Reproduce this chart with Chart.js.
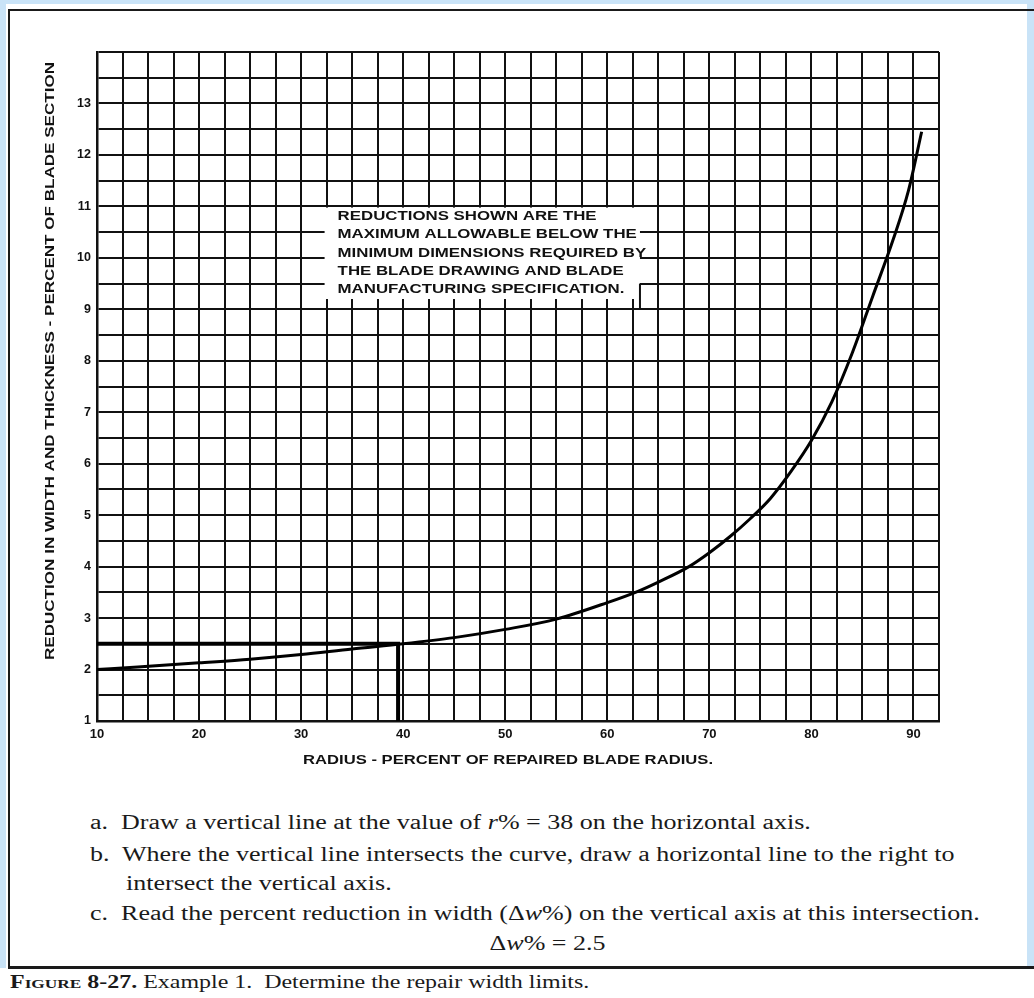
<!DOCTYPE html>
<html>
<head>
<meta charset="utf-8">
<script src="https://cdn.jsdelivr.net/npm/chart.js@4.4.0/dist/chart.umd.min.js"></script>
<style>
    body { margin: 0; width: 1034px; height: 998px; background: #c9e3f7; position: relative; overflow: hidden; }
    #sheet { position: absolute; left: 6px; top: 4px; width: 1021px; height: 994px; background: #fff; }
    #capbg { position: absolute; left: 0; top: 968px; width: 1034px; height: 30px; background: #fff; }
    #frame { position: absolute; left: 8px; top: 9px; width: 1026px; height: 955px;
        border-left: 2px solid #1a1a1a; border-top: 2px solid #1a1a1a; border-bottom: 3px solid #1a1a1a; }
    #chart { position: absolute; left: 0; top: 0; }
    .step { position: absolute; font-family: "Liberation Serif", "Times New Roman", serif; font-size: 20px;
        line-height: 24px; color: #1a1a1a; white-space: nowrap; transform: scaleX(1.3); transform-origin: left center; }
    .mid { position: absolute; left: 0; width: 1096px; text-align: center; font-family: "Liberation Serif", serif;
        font-size: 20px; line-height: 24px; color: #1a1a1a; }
    .mid span { display: inline-block; transform: scaleX(1.3); }
    #caption { position: absolute; left: 10px; top: 972px; font-family: "Liberation Serif", serif; font-size: 18px;
        line-height: 20px; color: #1a1a1a; white-space: nowrap; transform: scaleX(1.33); transform-origin: left center; }
    #caption b span { font-variant: small-caps; }
</style>
</head>
<body>
<div id="sheet"></div>
<div id="capbg"></div>
<div id="frame"></div>
<canvas id="chart" width="1034" height="790"></canvas>

<div class="step" style="left:90px; top:810px;">a.&nbsp; Draw a vertical line at the value of <i>r</i>% = 38 on the horizontal axis.</div>
<div class="step" style="left:90px; top:842px;">b.&nbsp; Where the vertical line intersects the curve, draw a horizontal line to the right to</div>
<div class="step" style="left:126px; top:871px;">intersect the vertical axis.</div>
<div class="step" style="left:90px; top:901px;">c.&nbsp; Read the percent reduction in width (Δ<i>w</i>%) on the vertical axis at this intersection.</div>
<div class="mid" style="top:931px;"><span>Δ<i>w</i>% = 2.5</span></div>
<div id="caption"><b>F<span>igure</span> 8-27.</b> Example 1.&nbsp; Determine the repair width limits.</div>

<script>
'use strict'

// curve (radius %, reduction %)
var radius = [10, 14, 20, 25, 30, 35, 40, 45, 50, 55, 60, 63, 65, 68, 70, 72, 74, 76, 78, 80, 82, 84, 86, 88, 89.5, 90.8];
var reduction = [2.0, 2.05, 2.13, 2.2, 2.29, 2.4, 2.5, 2.62, 2.78, 2.98, 3.3, 3.52, 3.7, 4.0, 4.27, 4.58, 4.93, 5.33, 5.85, 6.45, 7.2, 8.15, 9.25, 10.35, 11.3, 12.45];

// example 1 construction lines
var guideX = [10, 39.5, 39.5];
var guideY = [2.5, 2.5, 1];

var xTickLabels = [10, 20, 30, 40, 50, 60, 70, 80, 90];
var yTickLabels = [1, 2, 3, 4, 5, 6, 7, 8, 9, 10, 11, 12, 13];

var noteLines = [
    "REDUCTIONS SHOWN ARE THE",
    "MAXIMUM ALLOWABLE BELOW THE",
    "MINIMUM DIMENSIONS REQUIRED BY",
    "THE BLADE DRAWING AND BLADE",
    "MANUFACTURING SPECIFICATION."
];

var xTitle = "RADIUS - PERCENT OF REPAIRED BLADE RADIUS.";
var yTitle = "REDUCTION IN WIDTH AND THICKNESS - PERCENT OF BLADE SECTION";

(function () {

    function toPoints(xs, ys) {
        return xs.map(function (x, i) { return { x: x, y: ys[i] }; });
    }

    function fitText(ctx, text, cx, cy, width, angle) {
        var w = ctx.measureText(text).width;
        ctx.save();
        ctx.translate(cx, cy);
        ctx.rotate(angle);
        ctx.scale(width / w, 1);
        ctx.fillText(text, 0, 0);
        ctx.restore();
    }

    // white note box that blanks part of the grid
    var notePlugin = {
        id: 'note',
        beforeDatasetsDraw: function (chart) {
            var ctx = chart.ctx, xs = chart.scales.x, ys = chart.scales.y;
            var left = xs.getPixelForValue(32.3);
            var right = xs.getPixelForValue(63.2);
            var top = ys.getPixelForValue(11) + 1.2;
            var bottom = ys.getPixelForValue(9.2);
            ctx.save();
            ctx.fillStyle = '#fff';
            ctx.fillRect(left, top, right - left, bottom - top);
            ctx.strokeStyle = '#111';
            ctx.lineWidth = 2;
            ctx.beginPath();
            ctx.moveTo(right, ys.getPixelForValue(9.5));
            ctx.lineTo(right, ys.getPixelForValue(9));
            ctx.stroke();
            ctx.restore();
        },
        afterDatasetsDraw: function (chart) {
            var ctx = chart.ctx, xs = chart.scales.x, ys = chart.scales.y;
            var x0 = xs.getPixelForValue(32.3) + 13;
            var y0 = ys.getPixelForValue(11) + 10;
            ctx.save();
            ctx.fillStyle = '#111';
            ctx.font = 'bold 13.5px "Liberation Sans", Arial, sans-serif';
            ctx.textBaseline = 'middle';
            ctx.textAlign = 'left';
            var sx = 259 / ctx.measureText(noteLines[0]).width;
            noteLines.forEach(function (line, i) {
                ctx.save();
                ctx.translate(x0, y0 + i * 18.3);
                ctx.scale(sx, 1);
                ctx.fillText(line, 0, 0);
                ctx.restore();
            });
            ctx.restore();
        },
        afterDraw: function (chart) {
            var ctx = chart.ctx;
            ctx.save();
            ctx.fillStyle = '#111';
            ctx.font = 'bold 13px "Liberation Sans", Arial, sans-serif';
            ctx.textBaseline = 'middle';
            ctx.textAlign = 'center';
            fitText(ctx, xTitle, 508, 760, 410, 0);
            fitText(ctx, yTitle, 50, 361, 598, -Math.PI / 2);
            ctx.restore();
        }
    };

    var tickFont = { family: '"Liberation Sans", Arial, sans-serif', weight: 'bold', size: 13 };

    new Chart(document.getElementById("chart"), {
        type: 'line',
        data: {
            datasets: [{
                data: toPoints(radius, reduction),
                borderColor: '#000',
                borderWidth: 3,
                pointRadius: 0,
                cubicInterpolationMode: 'monotone',
                fill: false
            }, {
                data: toPoints(guideX, guideY),
                borderColor: '#000',
                borderWidth: 4,
                pointRadius: 0,
                tension: 0,
                fill: false
            }]
        },
        options: {
            responsive: false,
            animation: false,
            devicePixelRatio: 1,
            layout: { padding: { left: 30, right: 95, top: 52, bottom: 19 } },
            plugins: { legend: { display: false }, tooltip: { enabled: false } },
            scales: {
                x: {
                    type: 'linear',
                    min: 10,
                    max: 92.5,
                    afterFit: function (scale) { scale.height = 50; },
                    ticks: {
                        stepSize: 2.5,
                        maxTicksLimit: 100,
                        autoSkip: false,
                        maxRotation: 0,
                        padding: 6,
                        color: '#111',
                        font: tickFont,
                        callback: function (v) { return xTickLabels.indexOf(v) >= 0 ? String(v) : ''; }
                    },
                    grid: { color: '#111', lineWidth: 2, drawTicks: false },
                    border: { color: '#111', width: 2.5 }
                },
                y: {
                    min: 1,
                    max: 14,
                    afterFit: function (scale) { scale.width = 67; },
                    ticks: {
                        stepSize: 0.5,
                        maxTicksLimit: 100,
                        autoSkip: false,
                        padding: 6,
                        color: '#111',
                        font: { family: tickFont.family, weight: 'bold', size: 12.5 },
                        callback: function (v) { return yTickLabels.indexOf(v) >= 0 ? String(v) : ''; }
                    },
                    grid: { color: '#111', lineWidth: 2, drawTicks: false },
                    border: { color: '#111', width: 2.5 }
                }
            }
        },
        plugins: [notePlugin]
    });
})();
</script>
</body>
</html>
